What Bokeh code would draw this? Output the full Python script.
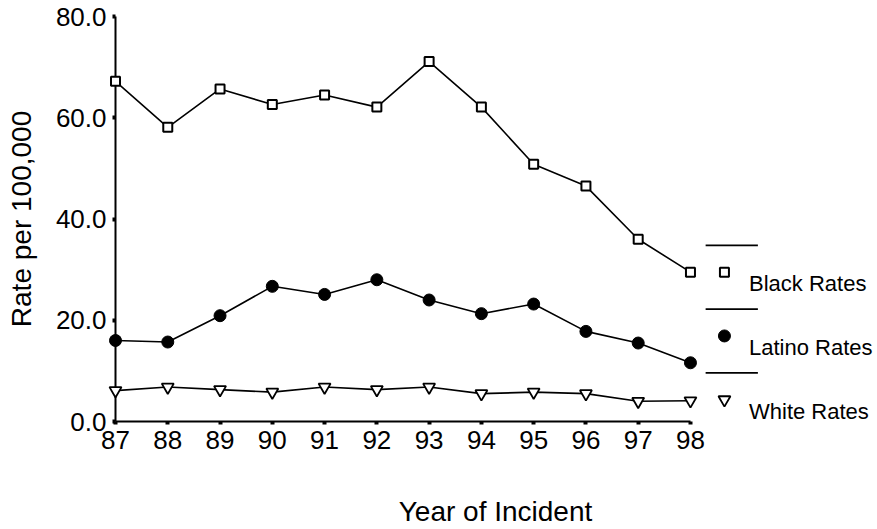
from bokeh.plotting import figure
from bokeh.models import Range1d, FixedTicker, NumeralTickFormatter, ColumnDataSource
from bokeh.core.properties import value
from bokeh.embed import file_html
from bokeh.resources import INLINE

# Incident rates per 100,000 by year
years = [87, 88, 89, 90, 91, 92, 93, 94, 95, 96, 97, 98]
black_rates = [67.2, 58.1, 65.7, 62.6, 64.5, 62.1, 71.1, 62.1, 50.8, 46.5, 36.0, 29.5]
latino_rates = [16.0, 15.7, 20.9, 26.7, 25.1, 28.0, 24.0, 21.3, 23.2, 17.8, 15.5, 11.6]
white_rates = [6.1, 6.8, 6.3, 5.8, 6.8, 6.3, 6.8, 5.5, 5.8, 5.5, 4.0, 4.1]

series_names = ["Black Rates", "Latino Rates", "White Rates"]
y_ticks = [0, 20, 40, 60, 80]

FONT = "Liberation Sans"

p = figure(
    width=877, height=529,
    x_range=Range1d(87, 101.54), y_range=Range1d(0, 80),
    output_backend="svg", toolbar_location=None,
    min_border_left=115, min_border_right=2, min_border_top=16, min_border_bottom=108,
)
p.outline_line_color = None
p.grid.visible = False
p.background_fill_color = "white"
p.border_fill_color = "white"

# axes
p.xaxis.ticker = FixedTicker(ticks=years)
p.xaxis.bounds = (87, 98)
p.yaxis.ticker = FixedTicker(ticks=y_ticks)
p.yaxis.formatter = NumeralTickFormatter(format="0.0")
for ax in (p.xaxis, p.yaxis):
    ax.axis_line_width = 2
    ax.axis_line_color = "black"
    ax.major_tick_line_width = 4
    ax.major_tick_line_color = "black"
    ax.major_tick_in = 0
    ax.major_tick_out = 3
    ax.minor_tick_line_color = None
    ax.major_label_text_font = FONT
    ax.major_label_text_font_size = "26px"
    ax.major_label_text_color = "black"
    ax.axis_label_text_font = FONT
    ax.axis_label_text_font_size = "28px"
    ax.axis_label_text_font_style = "normal"
    ax.axis_label_text_color = "black"
p.xaxis.axis_label = "Year of Incident"
p.xaxis.major_label_standoff = 6
p.xaxis.axis_label_standoff = 44
p.yaxis.axis_label = "Rate per 100,000"
p.yaxis.major_label_standoff = 6
p.yaxis.axis_label_standoff = 16

src = ColumnDataSource(dict(year=years, black=black_rates, latino=latino_rates, white=white_rates))

# series lines
for col in ("black", "latino", "white"):
    p.line("year", col, source=src, line_color="black", line_width=1.6)

# markers sit on the overlay level so the first year's points are not cut by the frame
p.scatter("year", "black", source=src, marker="square", size=9,
          fill_color="white", line_color="black", line_width=2, level="overlay")
p.scatter("year", "latino", source=src, marker="circle", size=12,
          fill_color="black", line_color="black", level="overlay")
p.scatter("year", "white", source=src, marker="inverted_triangle", size=12,
          fill_color="white", line_color="black", line_width=1.8, level="overlay")

# legend in the right margin: a rule above each marker and label
leg_rule_x0, leg_rule_x1 = 98.29, 99.29
leg_marker_x, leg_text_x = 98.65, 99.12
leg_top, leg_step = 34.8, 12.6
rule_y = [leg_top - i * leg_step for i in range(len(series_names))]
marker_y = [y - 5.3 for y in rule_y]
text_y = [y - 7.6 for y in rule_y]

p.segment(x0=[leg_rule_x0] * 3, x1=[leg_rule_x1] * 3, y0=rule_y, y1=rule_y,
          line_color="black", line_width=1.6)
p.scatter([leg_marker_x], [marker_y[0]], marker="square", size=9,
          fill_color="white", line_color="black", line_width=2)
p.scatter([leg_marker_x], [marker_y[1]], marker="circle", size=12,
          fill_color="black", line_color="black")
p.scatter([leg_marker_x], [marker_y[2]], marker="inverted_triangle", size=12,
          fill_color="white", line_color="black", line_width=1.8)
p.text(x=[leg_text_x] * 3, y=text_y, text=series_names,
       text_font=value(FONT), text_font_size="22px", text_color="black",
       text_baseline="middle", text_align="left")

open("out.html", "w").write(file_html(p, INLINE))
